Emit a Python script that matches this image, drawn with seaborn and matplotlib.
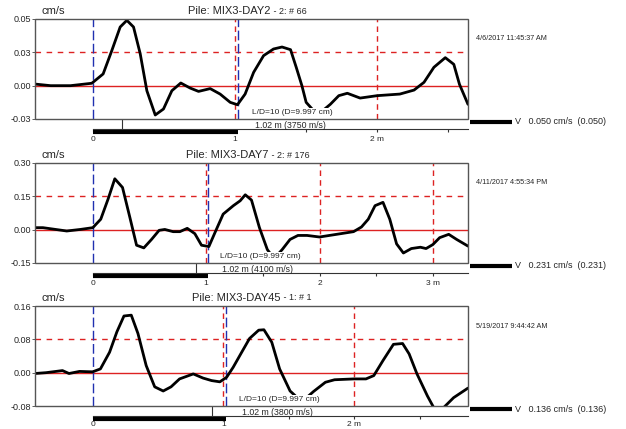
import matplotlib
matplotlib.use("Agg")
import matplotlib.pyplot as plt
import matplotlib.transforms as mtransforms
from matplotlib.lines import Line2D
from matplotlib.patches import Rectangle
import seaborn as sns

# --- velocity traces (depth in m, velocity in cm/s) ---
x_day2 = [-0.41, -0.30, -0.16, -0.01, 0.07, 0.13, 0.19, 0.237, 0.284, 0.331, 0.378,
          0.437, 0.495, 0.554, 0.617, 0.683, 0.742, 0.824, 0.894, 0.965, 1.016,
          1.07, 1.13, 1.20, 1.27, 1.33, 1.39, 1.43, 1.47, 1.50, 1.58, 1.67, 1.73,
          1.79, 1.88, 2.00, 2.16, 2.26, 2.33, 2.40, 2.48, 2.54, 2.58, 2.64]
v_day2 = [0.0012, 0.0, 0.0, 0.0018, 0.0088, 0.026, 0.044, 0.049, 0.044, 0.024, -0.0038,
          -0.022, -0.0175, -0.0038, 0.002, -0.0018, -0.0043, -0.0022, -0.0063, -0.0125, -0.0143,
          -0.0063, 0.01, 0.0225, 0.0275, 0.029, 0.027, 0.0138, 0.0, -0.0125, -0.022, -0.014, -0.0075,
          -0.0057, -0.0093, -0.0075, -0.0063, -0.0033, 0.0025, 0.0138, 0.021, 0.016, 0.001, -0.014]

x_day7 = [-0.51, -0.44, -0.23, -0.11, 0.0, 0.07, 0.135, 0.194, 0.262, 0.327, 0.386,
          0.45, 0.518, 0.585, 0.635, 0.709, 0.768, 0.833, 0.90, 0.959, 1.024, 1.077,
          1.15, 1.24, 1.30, 1.345, 1.40, 1.47, 1.54, 1.60, 1.67, 1.74, 1.81, 1.89,
          2.00, 2.15, 2.30, 2.37, 2.43, 2.49, 2.56, 2.62, 2.68, 2.74, 2.81, 2.89,
          2.94, 3.00, 3.06, 3.14, 3.21, 3.31]
v_day7 = [0.009, 0.009, -0.006, 0.001, 0.009, 0.047, 0.138, 0.229, 0.19, 0.055, -0.07,
          -0.082, -0.044, -0.003, 0.001, -0.009, -0.009, 0.006, -0.018, -0.07, -0.076, -0.014,
          0.07, 0.108, 0.13, 0.157, 0.133, 0.009, -0.09, -0.13, -0.09, -0.044, -0.026, -0.026,
          -0.033, -0.021, -0.009, 0.012, 0.047, 0.108, 0.123, 0.047, -0.064, -0.105, -0.085, -0.079,
          -0.085, -0.067, -0.036, -0.021, -0.044, -0.074]

x_day45 = [-0.44, -0.355, -0.23, -0.18, -0.10, 0.0, 0.06, 0.13, 0.186, 0.24, 0.296,
           0.347, 0.41, 0.475, 0.54, 0.60, 0.665, 0.77, 0.845, 0.91, 0.973, 1.025,
           1.075, 1.14, 1.20, 1.27, 1.31, 1.37, 1.43, 1.51, 1.60, 1.69, 1.78, 1.85,
           2.00, 2.09, 2.15, 2.22, 2.30, 2.37, 2.42, 2.48, 2.56, 2.61, 2.68, 2.76, 2.87]
v_day45 = [-0.002, 0.0, 0.005, -0.002, 0.003, 0.002, 0.009, 0.049, 0.098, 0.136, 0.138,
           0.094, 0.017, -0.034, -0.044, -0.034, -0.015, -0.003, -0.013, -0.019, -0.022, -0.011,
           0.013, 0.049, 0.082, 0.102, 0.103, 0.073, 0.009, -0.044, -0.07, -0.045, -0.023, -0.017,
           -0.015, -0.015, -0.007, 0.029, 0.068, 0.07, 0.045, -0.003, -0.056, -0.085, -0.085, -0.06, -0.037]

piles = ["MIX3-DAY2", "MIX3-DAY7", "MIX3-DAY45"]
suffixes = [" - 2: # 66", " - 2: # 176", " - 1: # 1"]
dates = ["4/6/2017 11:45:37 AM", "4/11/2017 4:55:34 PM", "5/19/2017 9:44:42 AM"]
wave_speeds = [3750, 4100, 3800]
v_scales = ["0.050", "0.231", "0.136"]
y_tops = [0.05, 0.30, 0.16]
y_labels = [["0.05", "0.03", "0.00", "-0.03"],
            ["0.30", "0.15", "0.00", "-0.15"],
            ["0.16", "0.08", "0.00", "-0.08"]]
x_ranges = [(-0.41, 2.64), (-0.51, 3.31), (-0.44, 2.87)]
x_tick_labels = [["0", "1", "2 m"], ["0", "1", "2", "3 m"], ["0", "1", "2 m"]]
marks = [0.2, 0.91, 0.91]
toe = 1.02
traces = [(x_day2, v_day2), (x_day7, v_day7), (x_day45, v_day45)]

sns.set_theme(style="white")
plt.rcParams["font.family"] = ["Liberation Sans", "DejaVu Sans"]

W, H = 626, 429
fig = plt.figure(figsize=(W / 100, H / 100), dpi=100)
fig.patch.set_facecolor("white")


def fx(px):
    return px / W


def fy(py):
    return 1 - py / H


tops = [19, 163, 306]
title_split = [270, 268, 280]
label_pads = [2.2, 2.2, 1.0]
red = "#dd2222"
blue = "#2030b0"

for i in range(3):
    top = tops[i]
    bottom = top + 100
    ax = fig.add_axes([fx(35), fy(bottom), fx(468) - fx(35), 100 / H])
    x, v = traces[i]
    sns.lineplot(x=x, y=v, ax=ax, color="black", lw=2.0, sort=False, zorder=3)

    yt = y_tops[i]
    x0, x1 = x_ranges[i]
    ax.set_xlim(x0, x1)
    ax.set_ylim(-yt / 2, yt)

    # reference lines
    ax.axhline(0, color=red, lw=1.0, zorder=2)
    ax.axhline(yt / 2, color=red, lw=1.0, ls=(0, (4, 4)), zorder=2)
    for m in range(1, int(x1) + 1):
        ax.axvline(m, color=red, lw=1.0, ls=(0, (4, 3)), zorder=2)
    ax.axvline(0, color=blue, lw=1.0, ls=(0, (7, 2.5)), zorder=2)
    ax.axvline(toe, color=blue, lw=1.0, ls=(0, (7, 2.5)), zorder=2)

    # y axis
    ax.set_yticks([yt, yt / 2, 0, -yt / 2])
    ax.set_yticklabels(y_labels[i])
    ax.tick_params(axis="y", length=2, width=0.6, pad=1, labelsize=6.5,
                   color="#444444", left=True)

    # box drawn as a patch; bottom spine becomes the depth scale
    for s in ["top", "right", "left"]:
        ax.spines[s].set_visible(False)
    ax.add_patch(Rectangle((0, 0), 1, 1, transform=ax.transAxes, fill=False,
                           ec="#555555", lw=1.0, clip_on=False, zorder=5))
    ax.spines["bottom"].set_position(("outward", 7.2))
    ax.spines["bottom"].set_bounds(0, x1)
    ax.spines["bottom"].set_color("#333333")
    ax.spines["bottom"].set_linewidth(0.8)
    nmaj = len(x_tick_labels[i])
    ax.set_xticks(range(nmaj))
    ax.set_xticklabels(x_tick_labels[i])
    ax.set_xticks([m + 0.5 for m in range(nmaj) if m + 0.5 < x1], minor=True)
    ax.tick_params(axis="x", which="both", direction="out", bottom=True,
                   length=2.5, width=0.8, pad=label_pads[i], labelsize=6,
                   color="#333333")

    trans = mtransforms.blended_transform_factory(ax.transData, ax.transAxes)
    ax.plot([0, toe], [-0.125, -0.125], color="black", lw=3, transform=trans,
            clip_on=False, solid_capstyle="butt")
    ax.plot([marks[i], marks[i]], [0, -0.1], color="#333333", lw=0.8,
            transform=trans, clip_on=False)

    # annotations
    ax.text(toe + 0.1, -yt / 2 + yt * 0.095, "L/D=10 (D=9.997 cm)", fontsize=6,
            ha="left", va="center", zorder=4,
            bbox=dict(facecolor="white", edgecolor="none", pad=1.2))
    ax.text(toe + 0.12, -0.065, f"1.02 m ({wave_speeds[i]} m/s)", fontsize=6.3,
            ha="left", va="center", transform=trans, zorder=4)

    fig.text(fx(41), fy(top - 8), "cm/s", fontsize=8, ha="left", va="center")
    fig.text(fx(title_split[i]), fy(top - 8), "Pile: " + piles[i], fontsize=8,
             ha="right", va="center")
    fig.text(fx(title_split[i] + 1), fy(top - 8), suffixes[i], fontsize=6.5,
             ha="left", va="center")
    fig.text(fx(476), fy(top + 20), dates[i], fontsize=5.2, ha="left", va="center")
    fig.add_artist(Line2D([fx(470), fx(512)], [fy(bottom + 3)] * 2, lw=3,
                          color="black", transform=fig.transFigure,
                          solid_capstyle="butt"))
    fig.text(fx(515), fy(bottom + 3),
             f"V   {v_scales[i]} cm/s  ({v_scales[i]})", fontsize=6.5,
             ha="left", va="center")

fig.savefig("out.png", dpi=100)
